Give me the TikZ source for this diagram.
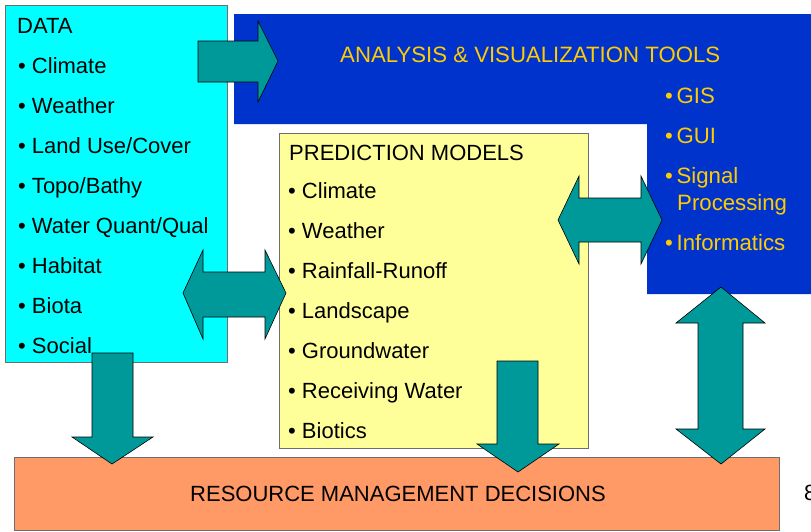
\documentclass[tikz,border=0pt]{standalone}
\usepackage{fontspec}
\setmainfont{Liberation Sans}
\definecolor{cyanbox}{RGB}{0,255,255}
\definecolor{bluebox}{RGB}{0,51,204}
\definecolor{yellowbox}{RGB}{255,255,153}
\definecolor{orangebox}{RGB}{255,153,102}
\definecolor{tealarrow}{RGB}{0,153,153}
\definecolor{goldtext}{RGB}{255,204,0}
\definecolor{edgegray}{RGB}{110,110,110}
\tikzset{
  box/.style={draw=edgegray, line width=0.8pt, anchor=north west, inner sep=0pt},
  blockarrow/.style={fill=tealarrow, draw=black, line width=0.6pt, line join=miter},
  txt/.style={anchor=base west, inner sep=0pt, font=\fontsize{22}{24}\selectfont},
  gtxt/.style={txt, text=goldtext, font=\fontsize{22.2}{24}\selectfont},
}
\newcommand{\bul}{\textbullet\ }
\begin{document}
\begin{tikzpicture}[x=1pt,y=-1pt]
\useasboundingbox (0,0) rectangle (811,531);
\clip (0,0) rectangle (811,531);
% blue L-shaped area
\fill[bluebox] (234,14) -- (811,14) -- (811,294) -- (647,294) -- (647,124) -- (234,124) -- cycle;
\node[inner sep=0pt] (tools) at (530,14) {};
% boxes
\node[box, fill=cyanbox, minimum width=222pt, minimum height=357pt] (data) at (5,5) {};
\node[box, fill=yellowbox, minimum width=309pt, minimum height=315pt] (pred) at (279,133) {};
\node[box, fill=orangebox, minimum width=765pt, minimum height=73pt] (dec) at (14,457) {};
% DATA texts
\node[txt] (dt) at (17,33) {DATA};
\node[txt] (d1) at (18,73) {\bul Climate};
\node[txt] (d2) at (18,113) {\bul Weather};
\node[txt] (d3) at (18,153) {\bul Land Use/Cover};
\node[txt] (d4) at (18,193) {\bul Topo/Bathy};
\node[txt] (d5) at (18,233) {\bul Water Quant/Qual};
\node[txt] (d6) at (18,273) {\bul Habitat};
\node[txt] (d7) at (18,313) {\bul Biota};
\node[txt] (d8) at (18,353) {\bul Social};
% prediction texts
\node[txt] (pt) at (289,160) {PREDICTION MODELS};
\node[txt] (p1) at (288,198) {\bul Climate};
\node[txt] (p2) at (288,238) {\bul Weather};
\node[txt] (p3) at (288,278) {\bul Rainfall-Runoff};
\node[txt] (p4) at (288,318) {\bul Landscape};
\node[txt] (p5) at (288,358) {\bul Groundwater};
\node[txt] (p6) at (288,398) {\bul Receiving Water};
\node[txt] (p7) at (288,438) {\bul Biotics};
% tools texts
\node[gtxt] (tt) at (340,62) {ANALYSIS \& VISUALIZATION TOOLS};
\node[gtxt] (t1) at (665,103) {\textbullet\,GIS};
\node[gtxt] (t2) at (665,143) {\textbullet\,GUI};
\node[gtxt] (t3) at (665,183) {\textbullet\,Signal};
\node[gtxt] (t3b) at (677,210) {Processing};
\node[gtxt] (t4) at (665,250) {\textbullet\,Informatics};
% decision text
\node[txt] (dectxt) at (190,501) {RESOURCE MANAGEMENT DECISIONS};
\node[txt] (pg) at (804,500) {8};
% arrows
\draw[blockarrow] (198,41) -- (258,41) -- (258,21) -- (278,61) -- (258,102) -- (258,82) -- (198,82) -- cycle;
\draw[blockarrow] (183,293) -- (203,250) -- (203,272) -- (265,272) -- (265,250) -- (286,293) -- (265,339) -- (265,317) -- (203,317) -- (203,339) -- cycle;
\draw[blockarrow] (558,220) -- (579,176) -- (579,198) -- (641,198) -- (641,176) -- (662,220) -- (641,264) -- (641,242) -- (579,242) -- (579,264) -- cycle;
\draw[blockarrow] (721,287) -- (765,323) -- (743,323) -- (743,429) -- (765,429) -- (721,464) -- (676,429) -- (698,429) -- (698,323) -- (676,323) -- cycle;
\draw[blockarrow] (92,353) -- (133,353) -- (133,437) -- (153,437) -- (112,464) -- (72,437) -- (92,437) -- cycle;
\draw[blockarrow] (497,361) -- (538,361) -- (538,444) -- (559,444) -- (518,472) -- (477,444) -- (497,444) -- cycle;
\end{tikzpicture}
\end{document}
